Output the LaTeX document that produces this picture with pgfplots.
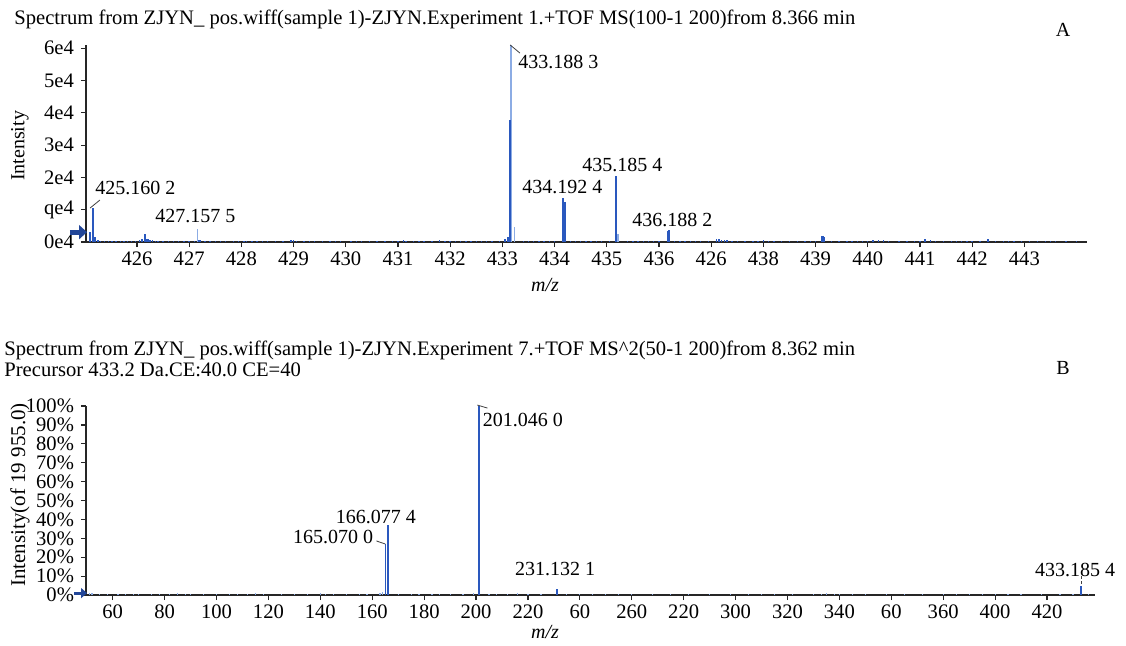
\documentclass[border=0pt]{standalone}
\usepackage{fontspec}
\setmainfont{Liberation Serif}
\usepackage{pgfplots}
\pgfplotsset{compat=1.18}
\usetikzlibrary{arrows.meta}
\definecolor{pk}{RGB}{42,88,190}
\definecolor{pklight}{RGB}{140,172,228}

\pgfplotstableread{
x y
425.10 3000
425.16 10500
425.20 1500
426.10 1000
426.15 2600
426.20 900
427.20 600
433.12 1600
433.15 37800
434.16 13600
434.19 12400
435.18 20300
436.17 3400
436.19 3600
437.15 900
439.13 2000
439.16 1400
442.30 1000
}\topmain

\pgfplotstableread{
x y
427.157 4000
433.17 61000
433.23 4500
435.22 2500
}\toplight

\pgfplotstableread{
x y
425.25 500
425.30 400
425.38 350
425.45 300
425.52 200
425.60 250
425.68 300
425.75 350
425.82 250
425.90 300
425.97 200
426.05 500
426.25 600
426.30 500
426.35 450
426.40 300
426.50 200
426.60 250
426.70 300
426.80 350
426.90 250
427.00 300
427.10 300
427.30 450
427.40 250
427.50 300
427.60 200
427.70 250
427.85 300
427.95 400
428.05 350
428.10 300
428.20 300
428.30 350
428.40 300
428.50 250
428.65 200
428.80 300
428.95 500
429.00 600
429.05 450
429.20 400
429.30 250
429.40 300
429.55 200
429.70 300
429.80 250
429.90 250
430.10 350
430.20 250
430.30 450
430.45 200
430.60 300
430.75 250
430.90 250
431.00 300
431.10 500
431.15 450
431.30 400
431.40 250
431.50 300
431.65 250
431.80 700
431.90 300
432.00 350
432.10 250
432.20 300
432.30 250
432.40 400
432.50 200
432.60 300
432.70 250
432.80 350
432.95 300
433.05 800
433.40 350
433.50 250
433.60 400
433.70 250
433.80 350
433.90 250
434.00 300
434.30 400
434.40 300
434.50 450
434.60 250
434.70 300
434.80 250
434.90 350
435.05 300
435.40 400
435.50 250
435.60 300
435.70 250
435.80 350
435.90 250
436.00 300
436.30 250
436.40 350
436.50 250
436.60 300
436.70 200
436.80 250
436.95 300
437.10 800
437.20 700
437.25 600
437.30 500
437.40 300
437.50 300
437.65 250
437.80 400
437.90 300
438.00 500
438.10 400
438.20 350
438.35 250
438.50 300
438.65 250
438.80 350
438.90 300
439.00 400
439.30 300
439.45 250
439.60 250
439.70 200
439.80 300
439.90 250
440.00 400
440.10 500
440.20 700
440.30 500
440.40 300
440.60 300
440.75 250
440.90 350
441.00 300
441.10 900
441.20 500
441.30 400
441.45 250
441.60 300
441.70 250
441.80 350
441.90 300
442.00 400
442.15 300
442.45 250
442.60 300
442.70 200
442.80 250
442.95 300
443.10 400
443.25 250
443.40 350
443.50 200
443.60 250
443.80 200
444.00 200
}\topnoise

\pgfplotstableread{
x y
165.070 27
166.077 37
201.046 100
231.132 3
433.185 5
}\botmain

\pgfplotstableread{
x y
51 1.2
52 1.0
55 0.5
58 0.3
62 0.4
65 0.6
68 0.3
70 0.4
75 0.3
78 0.4
82 0.3
85 0.8
88 0.4
90 0.3
95 0.4
100 0.3
105 0.3
108 0.4
112 0.7
115 0.8
118 0.3
125 0.3
130 0.3
135 0.4
140 0.9
142 0.5
145 0.4
150 0.3
155 0.5
158 0.4
163 1.2
164 1.5
170 0.5
175 0.4
178 0.3
183 0.6
186 0.4
190 0.3
195 0.4
199 0.8
205 0.4
208 0.5
212 0.4
216 1.2
220 0.4
225 0.5
235 0.4
240 0.3
245 0.4
250 0.5
255 0.3
260 0.3
268 0.4
275 0.4
282 0.3
290 0.5
298 0.3
305 0.3
310 0.4
315 0.4
322 0.3
330 0.6
333 0.7
335 0.8
338 0.6
340 0.5
345 0.3
350 0.4
358 0.3
365 0.3
372 0.4
380 0.5
385 0.4
390 0.4
395 0.3
400 0.3
405 0.4
410 0.4
418 0.3
425 0.3
430 0.3
436 0.4
}\botnoise

\begin{document}
\begin{tikzpicture}[font=\fontsize{10pt}{12pt}\selectfont]
\useasboundingbox (0,0) rectangle (563pt,322.5pt);
\pgfplotsset{every axis/.append style={
  scale only axis, axis lines=left,
  axis line style={-, line width=0.7pt, black!85},
  tick style={black!85, line width=0.6pt}, tick align=outside,
  major tick length=2.5pt,
  /pgf/number format/assume math mode=true,
  ticklabel style={font=\fontsize{10.3pt}{12pt}\selectfont},
  xticklabel style={yshift=1pt},
  clip=false}}

% titles
\node[anchor=west, inner sep=0] at (7pt,313pt) {\fontsize{10.3pt}{12pt}\selectfont Spectrum from ZJYN\_ pos.wiff(sample 1)-ZJYN.Experiment 1.+TOF MS(100-1 200)from 8.366 min};
\node[inner sep=0] at (531.5pt,307.5pt) {A};
\node[anchor=west, inner sep=0] at (2pt,147.5pt) {\fontsize{10.3pt}{12pt}\selectfont Spectrum from ZJYN\_ pos.wiff(sample 1)-ZJYN.Experiment 7.+TOF MS\^{}2(50-1 200)from 8.362 min};
\node[anchor=west, inner sep=0] at (2pt,137.5pt) {\fontsize{10.3pt}{12pt}\selectfont Precursor 433.2 Da.CE:40.0 CE=40};
\node[inner sep=0] at (531.5pt,138.5pt) {B};
\node[rotate=90, inner sep=0] at (10pt,249.5pt) {Intensity};
\node[rotate=90, inner sep=0] at (10pt,75pt) {\fontsize{10.5pt}{12pt}\selectfont Intensity(of 19 955.0)};
\node[inner sep=0] at (272.5pt,180pt) {\textit{m/z}};
\node[inner sep=0] at (272.5pt,6.5pt) {\textit{m/z}};

\begin{axis}[at={(43pt,201.5pt)}, anchor=south west,
  width=500.5pt, height=98.5pt,
  xmin=425.023, xmax=444.2, ymin=0, ymax=61000,
  xtick={426,...,443},
  xticklabels={426,427,428,429,430,431,432,433,434,435,436,426,438,439,440,441,442,443},
  ytick={0,10000,20000,30000,40000,50000,60000},
  yticklabels={0e4,qe4,2e4,3e4,4e4,5e4,6e4},
  scaled y ticks=false]
\addplot[ycomb, no marks, pk, line width=0.7pt] table {\topnoise};
\addplot[ycomb, no marks, pklight, line width=0.8pt] table {\toplight};
\addplot[ycomb, no marks, pk, line width=1.2pt] table {\topmain};
\draw[black!75, line width=0.4pt] (axis cs:433.15,61000) -- (axis cs:433.337,58500);
\draw[black!75, line width=0.4pt] (axis cs:425.10,10500) -- (axis cs:425.29,13000);
\node[anchor=west, inner sep=0] at (axis cs:433.30,55700) {433.188 3};
\node[anchor=west, inner sep=0] at (axis cs:425.195,16700) {425.160 2};
\node[anchor=west, inner sep=0] at (axis cs:426.345,8200) {427.157 5};
\node[anchor=west, inner sep=0] at (axis cs:433.375,17000) {434.192 4};
\node[anchor=west, inner sep=0] at (axis cs:434.525,23800) {435.185 4};
\node[anchor=west, inner sep=0] at (axis cs:435.483,6900) {436.188 2};
\draw[pk!80!black, line width=2.5pt, -{Triangle[length=4pt,width=7pt]}] (rel axis cs:-0.016,0.05) -- (rel axis cs:0.001,0.05);
\end{axis}

\begin{axis}[at={(43pt,25pt)}, anchor=south west,
  width=504.5pt, height=94.5pt,
  xmin=49.7, xmax=438.5, ymin=0, ymax=100,
  xtick={60,80,...,420},
  xticklabels={60,80,100,120,140,160,180,200,220,60,260,220,300,320,340,60,360,400,420},
  ytick={0,10,...,100},
  yticklabel={\pgfmathprintnumber{\tick}\%}]
\addplot[ycomb, no marks, pklight, line width=0.6pt] table {\botnoise};
\addplot[ycomb, no marks, pk, line width=0.9pt] table {\botmain};
\draw[black!75, line width=0.4pt] (axis cs:161.6,28.6) -- (axis cs:165.0,27);
\draw[black!75, line width=0.4pt] (axis cs:200.5,100.5) -- (axis cs:204.4,98.9);
\draw[black!75, line width=0.5pt, dash pattern=on 1.5pt off 1pt] (axis cs:433.185,6) -- (axis cs:433.185,10);
\node[anchor=west, inner sep=0] at (axis cs:202.5,92.6) {201.046 0};
\node[anchor=west, inner sep=0] at (axis cs:145.85,41.3) {166.077 4};
\node[anchor=east, inner sep=0] at (axis cs:160.5,30.7) {165.070 0};
\node[anchor=west, inner sep=0] at (axis cs:214.9,13.8) {231.132 1};
\node[anchor=west, inner sep=0] at (axis cs:415.3,13.2) {433.185 4};
\draw[pk!80!black, line width=1.5pt, -{Triangle[length=3pt,width=5pt]}] (rel axis cs:-0.012,0.01) -- (rel axis cs:0.001,0.01);
\end{axis}
\end{tikzpicture}
\end{document}
